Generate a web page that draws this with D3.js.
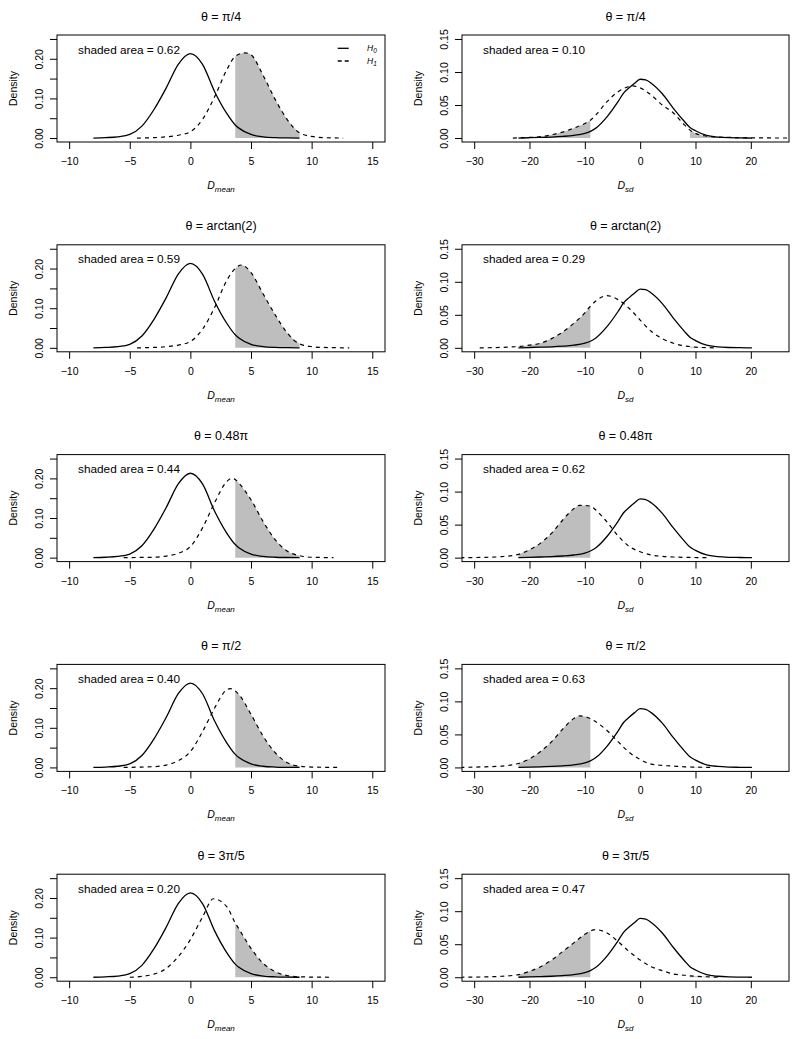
<!DOCTYPE html>
<html>
<head>
<meta charset="utf-8">
<script src="https://cdn.jsdelivr.net/npm/d3@7"></script>
<style>
  body { margin: 0; background: #fff; }
  svg { display: block; font-family: "Liberation Sans", Arial, Helvetica, sans-serif; }
</style>
</head>
<body>
<svg width="800" height="1039"></svg>
<script>
// panel titles and shaded-area labels, one per row
var titles = ["θ = π/4", "θ = arctan(2)", "θ = 0.48π", "θ = π/2", "θ = 3π/5"];
var meanArea = ["0.62", "0.59", "0.44", "0.40", "0.20"];
var sdArea = ["0.10", "0.29", "0.62", "0.63", "0.47"];

// ticks
var meanTicksX = [-10, -5, 0, 5, 10, 15];
var meanTicksY = [0, 0.05, 0.10, 0.15, 0.20, 0.25];
var meanLabelsY = [0, 0.10, 0.20];
var sdTicksX = [-30, -20, -10, 0, 10, 20];
var sdTicksY = [0, 0.05, 0.10, 0.15];
var sdLabelsY = [0, 0.05, 0.10, 0.15];

// rejection regions (shaded under H1)
var meanShade = [[3.7, 9]];
var sdShade = [[-22, -9], [9, 20]];

// density under H0, D_mean (same in every row)
var h0Mean = [[-8,0],[-7,0.001],[-6,0.003],[-5,0.009],[-4,0.030],[-3,0.072],[-2,0.126],[-1,0.186],
  [0,0.213],[1,0.186],[2,0.117],[3,0.062],[3.7,0.033],[4,0.025],[5,0.009],[6,0.003],[7,0.001],[8,0.0003],[9,0]];

// density under H1, D_mean, one per row
var h1Mean = [
  [[-4.4,0],[-3,0.001],[-2,0.003],[-1,0.007],[0,0.016],[1,0.047],[2,0.104],[3,0.172],[3.7,0.206],[4.5,0.215],
   [5,0.210],[6,0.158],[7,0.097],[8,0.046],[9,0.013],[10,0.004],[11,0.001],[12.6,0]],
  [[-4.4,0],[-3,0.001],[-2,0.003],[-1,0.007],[0,0.016],[1,0.047],[2,0.102],[3,0.170],[3.7,0.200],[4.2,0.209],
   [5,0.190],[6,0.136],[7,0.083],[8,0.037],[9,0.010],[10,0.003],[11,0.001],[13.1,0]],
  [[-5.5,0],[-4,0.0005],[-3,0.001],[-2,0.004],[-1,0.011],[0,0.028],[1,0.075],[2,0.139],[3,0.192],[3.4,0.200],
   [3.7,0.197],[4,0.188],[5,0.146],[6,0.091],[7,0.045],[8,0.016],[9,0.005],[10,0.001],[11.8,0]],
  [[-5.5,0],[-4,0.001],[-3,0.002],[-2,0.006],[-1,0.017],[0,0.040],[1,0.090],[2,0.150],[3,0.196],[3.3,0.199],
   [3.7,0.193],[4,0.184],[5,0.134],[6,0.079],[7,0.037],[8,0.012],[9,0.003],[10,0.001],[12.3,0]],
  [[-5,0],[-4,0.002],[-3,0.008],[-2,0.022],[-1,0.052],[0,0.095],[1,0.152],[1.9,0.198],[3,0.178],[3.7,0.137],
   [4,0.122],[5,0.073],[6,0.035],[7,0.014],[8,0.004],[9,0.001],[11.5,0]]
];

// density under H0, D_sd (same in every row)
var h0Sd = [[-22,0],[-20,0.0005],[-18,0.001],[-16,0.0015],[-14,0.0025],[-12,0.004],[-10,0.007],[-9,0.010],
  [-8,0.015],[-6,0.032],[-4,0.055],[-3,0.068],[-2,0.076],[-1,0.083],[0,0.089],[1,0.088],[2,0.083],[4,0.067],
  [6,0.045],[8,0.025],[9,0.016],[10,0.011],[12,0.004],[14,0.0015],[16,0.0005],[18,0.0002],[20.2,0]];

// density under H1, D_sd, one per row
var h1Sd = [
  [[-23,0],[-22,0.0005],[-20,0.001],[-18,0.002],[-16,0.005],[-14,0.009],[-12,0.015],[-10,0.022],[-9,0.027],
   [-8,0.035],[-6,0.055],[-4,0.070],[-2,0.078],[-1.5,0.079],[0,0.076],[2,0.065],[4,0.050],[6,0.038],[8,0.020],
   [9,0.012],[10,0.007],[12,0.003],[14,0.0015],[16,0.001],[20,0.0003],[27.5,0]],
  [[-29,0],[-24,0.001],[-22,0.002],[-20,0.004],[-18,0.007],[-16,0.014],[-14,0.024],[-12,0.037],[-10,0.053],
   [-9,0.063],[-8,0.071],[-6,0.079],[-4,0.073],[-2,0.060],[0,0.042],[2,0.025],[4,0.014],[6,0.007],[8,0.003],
   [9,0.002],[10,0.001],[14,0]],
  [[-32.5,0],[-28,0.0005],[-25,0.0015],[-22,0.005],[-20,0.012],[-18,0.022],[-16,0.037],[-14,0.057],[-12,0.074],
   [-11,0.079],[-10,0.079],[-9,0.078],[-8,0.072],[-6,0.054],[-4,0.033],[-2,0.017],[0,0.009],[2,0.004],[4,0.002],
   [6,0.001],[9,0.0003],[12,0]],
  [[-32.5,0],[-28,0.001],[-25,0.002],[-22,0.006],[-20,0.013],[-18,0.024],[-16,0.039],[-14,0.058],[-12,0.074],
   [-11,0.078],[-10,0.077],[-9,0.074],[-8,0.069],[-6,0.056],[-4,0.039],[-2,0.023],[0,0.012],[2,0.005],[4,0.003],
   [6,0.002],[8,0.001],[9,0.0007],[10,0.0005],[13,0]],
  [[-32.5,0],[-28,0.0005],[-25,0.0015],[-22,0.004],[-20,0.009],[-18,0.016],[-16,0.026],[-14,0.039],[-12,0.052],
   [-10,0.065],[-9,0.070],[-8,0.072],[-6,0.067],[-4,0.054],[-2,0.039],[0,0.026],[2,0.016],[4,0.010],[6,0.005],
   [8,0.003],[9,0.002],[10,0.0015],[14,0]]
];

var svg = d3.select("svg");
var rowStep = 209.8, boxTop = 35, boxH = 107;

var cols = [
  {x0: 57, x1: 385, xdom: [-11, 16.05], ydom: [-0.01, 0.26], xt: meanTicksX, yt: meanTicksY, yl: meanLabelsY,
   shade: meanShade, h0: h0Mean, h1: h1Mean, areas: meanArea, sub: "mean"},
  {x0: 462, x1: 789, xdom: [-32.2, 26.9], ydom: [-0.006, 0.156], xt: sdTicksX, yt: sdTicksY, yl: sdLabelsY,
   shade: sdShade, h0: h0Sd, h1: h1Sd, areas: sdArea, sub: "sd"}
];

var fmt = d3.format(".2f");

titles.forEach(function(title, r) {
  cols.forEach(function(c, ci) {
    var top = boxTop + r * rowStep, bot = top + boxH;
    var x = d3.scaleLinear().domain(c.xdom).range([c.x0, c.x1]);
    var y = d3.scaleLinear().domain(c.ydom).range([bot, top]);
    var g = svg.append("g");
    var id = "clip" + r + "_" + ci;

    g.append("clipPath").attr("id", id).append("rect")
      .attr("x", c.x0).attr("y", top).attr("width", c.x1 - c.x0).attr("height", boxH);

    var plot = g.append("g").attr("clip-path", "url(#" + id + ")");
    var h1 = c.h1[r];

    // shaded rejection region under H1
    var area = d3.area()
      .x(function(d) { return x(d[0]); })
      .y0(y(0))
      .y1(function(d) { return y(d[1]); })
      .curve(d3.curveMonotoneX);
    c.shade.forEach(function(s) {
      var pts = h1.filter(function(d) { return d[0] >= s[0] && d[0] <= s[1]; });
      if (pts.length > 1) {
        plot.append("path").attr("d", area(pts)).attr("fill", "#bebebe");
      }
    });

    var line = d3.line()
      .x(function(d) { return x(d[0]); })
      .y(function(d) { return y(d[1]); })
      .curve(d3.curveMonotoneX);
    plot.append("path").attr("d", line(c.h0))
      .attr("fill", "none").attr("stroke", "#000").attr("stroke-width", 1.3);
    plot.append("path").attr("d", line(h1))
      .attr("fill", "none").attr("stroke", "#000").attr("stroke-width", 1.2)
      .attr("stroke-dasharray", "4,4");

    // box
    g.append("rect").attr("x", c.x0).attr("y", top)
      .attr("width", c.x1 - c.x0).attr("height", boxH)
      .attr("fill", "none").attr("stroke", "#000").attr("stroke-width", 1);

    // x axis
    var xa = g.append("g").attr("transform", "translate(0," + bot + ")")
      .call(d3.axisBottom(x).tickValues(c.xt).tickSize(7).tickPadding(8.5)
        .tickFormat(d3.format("d")));
    xa.select(".domain").remove();
    xa.selectAll("text").attr("font-size", 10.5).attr("fill", "#000")
      .attr("font-family", "Liberation Sans, Arial, sans-serif");

    // y axis, labels parallel to axis
    var ya = g.append("g").attr("transform", "translate(" + c.x0 + ",0)")
      .call(d3.axisLeft(y).tickValues(c.yt).tickSize(7)
        .tickFormat(function(d) { return c.yl.some(function(v) { return Math.abs(v - d) < 1e-9; }) ? fmt(d) : ""; }));
    ya.select(".domain").remove();
    ya.selectAll("text")
      .attr("x", 0).attr("y", -14.3).attr("dy", null)
      .attr("transform", "rotate(-90)")
      .attr("text-anchor", "middle")
      .attr("font-size", 10.5).attr("fill", "#000")
      .attr("font-family", "Liberation Sans, Arial, sans-serif");

    // y label
    g.append("text")
      .attr("transform", "translate(" + (c.x0 - 39.7) + "," + (top + boxH / 2) + ") rotate(-90)")
      .attr("text-anchor", "middle").attr("font-size", 10.5)
      .text("Density");

    // x label D_mean / D_sd
    var xl = g.append("text")
      .attr("x", (c.x0 + c.x1) / 2).attr("y", bot + 47)
      .attr("text-anchor", "middle").attr("font-size", 10.5).attr("font-style", "italic")
      .text("D");
    xl.append("tspan").attr("dy", 3).attr("font-size", 8).text(c.sub);

    // title
    g.append("text")
      .attr("x", (c.x0 + c.x1) / 2).attr("y", top - 14.5)
      .attr("text-anchor", "middle").attr("font-size", 12.5)
      .text(title);

    // shaded area label
    g.append("text")
      .attr("x", c.x0 + 21).attr("y", top + 18.5)
      .attr("font-size", 11.8)
      .text("shaded area = " + c.areas[r]);

    // legend, first row left panel only
    if (r === 0 && ci === 0) {
      var lg = g.append("g");
      [["0", null, 13.3], ["1", "4,3", 26]].forEach(function(l) {
        lg.append("line")
          .attr("x1", c.x1 - 47.3).attr("x2", c.x1 - 36.3)
          .attr("y1", top + l[2]).attr("y2", top + l[2])
          .attr("stroke", "#000").attr("stroke-width", 1.3)
          .attr("stroke-dasharray", l[1]);
        var t = lg.append("text")
          .attr("x", c.x1 - 18).attr("y", top + l[2] + 2.5)
          .attr("font-size", 8.5).attr("font-style", "italic")
          .text("H");
        t.append("tspan").attr("dy", 2).attr("font-size", 6.5).text(l[0]);
      });
    }
  });
});
</script>
</body>
</html>
